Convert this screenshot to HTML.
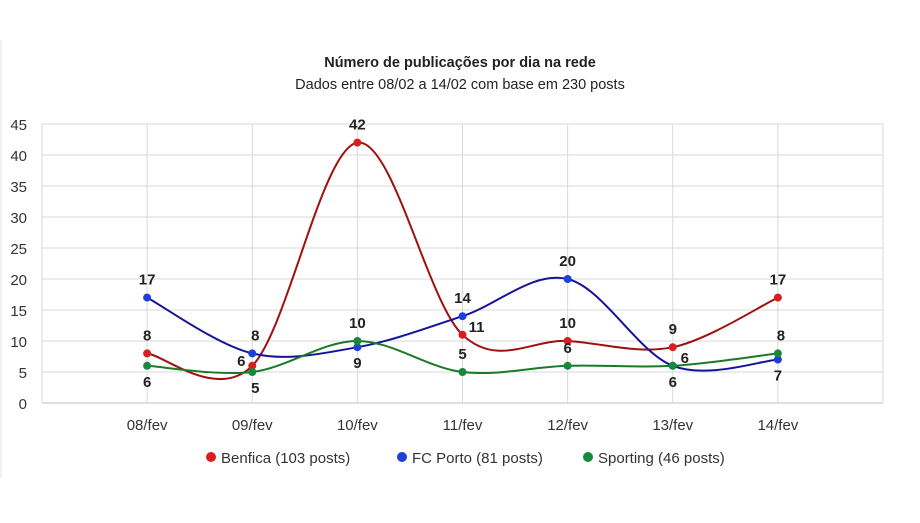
<!DOCTYPE html>
<html><head><meta charset="utf-8">
<style>
body{margin:0;background:#fff;font-family:"Liberation Sans",sans-serif;}
svg text{font-family:"Liberation Sans",sans-serif;}
</style></head>
<body>
<svg id="chart" width="920" height="518" viewBox="0 0 920 518" xmlns="http://www.w3.org/2000/svg">
<rect x="0" y="0" width="920" height="518" fill="#fff"/>
<line x1="1" y1="40" x2="1" y2="478" stroke="#e4e4e4"/>
<text x="460" y="67" text-anchor="middle" font-size="14.5" font-weight="bold" fill="#222">Número de publicações por dia na rede</text>
<text x="460" y="89" text-anchor="middle" font-size="14.5" fill="#222">Dados entre 08/02 a 14/02 com base em 230 posts</text>
<g id="grid"></g>
<g id="series"></g>
<g id="legend"></g>
</svg>
<script>
const categories=["08/fev","09/fev","10/fev","11/fev","12/fev","13/fev","14/fev"];
const benfica=[8,6,42,11,10,9,17];
const porto=[17,8,9,14,20,6,7];
const sporting=[6,5,10,5,6,6,8];
const yTicks=[0,5,10,15,20,25,30,35,40,45];
const seriesNames=["Benfica (103 posts)","FC Porto (81 posts)","Sporting (46 posts)"];

const NS="http://www.w3.org/2000/svg";
const L=42,R=883,T=124,B=403,YMAX=45;
const step=(R-L)/8;
const x=i=>L+step*(i+1);
const y=v=>B-(v/YMAX)*(B-T);
function mk(tag,attrs,parent){const e=document.createElementNS(NS,tag);for(const k in attrs)e.setAttribute(k,attrs[k]);parent.appendChild(e);return e;}
const grid=document.getElementById('grid');
yTicks.forEach(t=>{
  const ln=mk('line',{x1:L,x2:R,y1:y(t),y2:y(t),stroke:t===0?'#bfbfbf':'#d9d9d9','stroke-width':1},grid);
  
  
  const tx=mk('text',{x:27,y:y(t)+6,'text-anchor':'end','font-size':15,fill:'#333'},grid);
  tx.textContent=t;
  
  
});
mk('line',{x1:L,x2:L,y1:T,y2:B,stroke:'#d9d9d9'},grid);
mk('line',{x1:R,x2:R,y1:T,y2:B,stroke:'#d9d9d9'},grid);
categories.forEach((c,i)=>{
  const ln=mk('line',{x1:x(i),x2:x(i),y1:T,y2:B,stroke:'#d9d9d9'},grid);
  
  
  const tx=mk('text',{x:x(i),y:430,'text-anchor':'middle','font-size':15,fill:'#333'},grid);
  tx.textContent=c;
  
  
});
// label offsets [dx,dy] relative to point (style only)
const offB=[[0,-13],[-11,0],[0,-13],[14,-3],[0,-13],[0,-13],[0,-13]];
const offP=[[0,-13],[3,-13],[0,21],[0,-13],[0,-13],[0,21],[0,21]];
const offS=[[0,21],[3,21],[0,-13],[0,-13],[0,-13],[12,-3],[3,-13]];
function path(vals){
  const p=vals.map((v,i)=>[x(i),y(v)]);
  let d=`M${p[0][0]},${p[0][1]}`;
  for(let i=0;i<p.length-1;i++){
    const p0=p[i-1]||p[i],p1=p[i],p2=p[i+1],p3=p[i+2]||p2;
    const c1=[p1[0]+(p2[0]-p0[0])/6,p1[1]+(p2[1]-p0[1])/6];
    const c2=[p2[0]-(p3[0]-p1[0])/6,p2[1]-(p3[1]-p1[1])/6];
    d+=` C${c1[0]},${c1[1]} ${c2[0]},${c2[1]} ${p2[0]},${p2[1]}`;
  }
  return d;
}
const sg=document.getElementById('series');
const defs=[
  {vals:benfica,line:'#a01010',dot:'#d81e1e',off:offB,name:'benfica'},
  {vals:porto,line:'#14149a',dot:'#1f3fd8',off:offP,name:'porto'},
  {vals:sporting,line:'#1a7a28',dot:'#168a3a',off:offS,name:'sporting'}];
defs.forEach(s=>{
  const pth=mk('path',{d:path(s.vals),fill:'none',stroke:s.line,'stroke-width':2},sg);
  
  
});
defs.forEach(s=>{
  s.vals.forEach((v,i)=>{
    const c=mk('circle',{cx:x(i),cy:y(v),r:4,fill:s.dot},sg);
    
    
    const t=mk('text',{x:x(i)+s.off[i][0],y:y(v)+s.off[i][1],'text-anchor':'middle','font-size':15,'font-weight':'bold',fill:'#222'},sg);
    t.textContent=v;
    
    
  });
});
const lg=document.getElementById('legend');
const lx=[211,402,588];
defs.forEach((s,i)=>{
  const c=mk('circle',{cx:lx[i],cy:457,r:5,fill:s.dot},lg);
  
  
  const t=mk('text',{x:lx[i]+10,y:463,'font-size':15,fill:'#333'},lg);
  t.textContent=seriesNames[i];
  
  
});
</script>
</body></html>
